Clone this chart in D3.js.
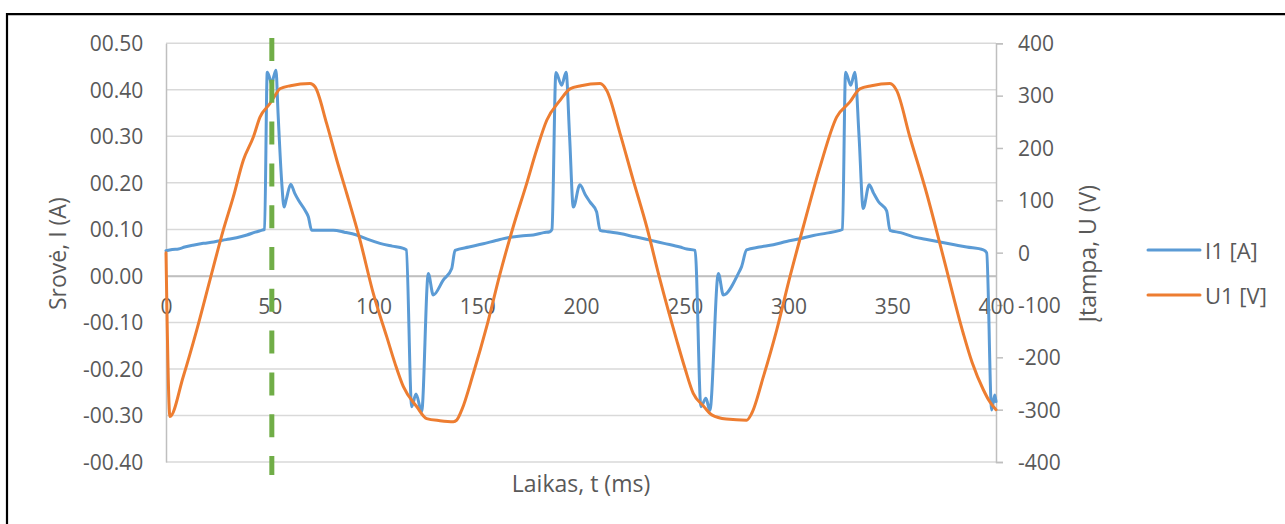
<!DOCTYPE html>
<html>
<head>
<meta charset="utf-8">
<script src="https://cdn.jsdelivr.net/npm/d3@7"></script>
<style>
  body { margin: 0; background: #fff; }
  svg { display: block; }
  text { font-family: "Open Sans", sans-serif; fill: #595959; }
</style>
</head>
<body>
<svg id="chart" width="1285" height="524"></svg>
<script>
// ---------- data ----------
const timeI = [0,3,6,9,13,18,23,29,34,39,43,46,47.5,48.8,50,50.9,52,53,54,55.7,56.9,58,60.1,62,63.8,67,68.6,70.2,75,80.6,86,91.9,97,103.1,109,114.4,115.8,118.4,120.5,123.2,126.4,128.8,133.6,137.7,139.3,146,152.9,159,165.8,171,177,182,185,186,187.9,190.7,192.8,194.5,196.3,199.5,202,204.3,207.5,209.2,213,218.8,226,233.3,240,247.7,251,255,257.8,260.2,262.1,266.2,268.6,275.8,277.4,279.8,286,292.7,299,305.5,312,318.4,324.8,326,327.5,330,332,334,336,338.9,341,343.3,347.3,348.9,354,360.2,366,373,380,385.9,393.9,395.5,397.9,399.4,400];
const currentI1 = [0.054,0.057,0.058,0.062,0.066,0.070,0.073,0.078,0.082,0.088,0.094,0.098,0.100,0.438,0.425,0.413,0.430,0.442,0.350,0.206,0.148,0.165,0.197,0.178,0.163,0.141,0.127,0.098,0.098,0.098,0.094,0.088,0.079,0.070,0.064,0.059,0.056,-0.281,-0.254,-0.292,0.005,-0.041,-0.009,0.016,0.055,0.062,0.069,0.076,0.083,0.086,0.088,0.093,0.095,0.100,0.437,0.410,0.438,0.300,0.148,0.196,0.175,0.159,0.138,0.098,0.095,0.091,0.084,0.077,0.070,0.062,0.058,0.055,-0.281,-0.263,-0.289,0.005,-0.041,0.005,0.020,0.056,0.062,0.067,0.074,0.080,0.087,0.092,0.098,0.100,0.438,0.410,0.438,0.300,0.145,0.196,0.178,0.160,0.140,0.098,0.093,0.084,0.079,0.073,0.067,0.062,0.056,0.050,-0.288,-0.256,-0.270];

const timeU = [0,1.9,8.3,14.8,21.2,27.6,32.4,37.3,42.1,45.3,50.1,52.5,54.9,60,69.4,71.8,77.4,82.3,87.1,93.5,99.9,106.4,110.4,114.4,120.8,125.6,132,138.5,140.1,142.5,148.1,154.5,161,167.3,173.8,178.6,183.5,189.9,194.7,200,209.2,212.4,218.8,225.2,231.7,238.1,246.1,250.1,254.1,259,263,270,279.8,282.3,287.9,294.3,300.7,307.1,315.2,323.2,329.6,334.4,340,348.9,352.1,358.5,366.6,374.6,384.2,388.5,393.9,397,400];
const voltageU1 = [0,-313,-237,-148,-52,43,106,177,221,259,285,300,313,319,323,317,247,177,113,24,-78,-161,-212,-256,-294,-317,-321,-323,-320,-301,-231,-142,-40,49,132,196,253,291,313,319,323,310,228,138,49,-52,-167,-221,-269,-293,-310,-318,-320,-307,-237,-148,-46,49,164,259,288,313,319,323,310,221,113,-8,-154,-210,-262,-285,-300];

const xTicks = [0,50,100,150,200,250,300,350,400];
const leftTicks = [-0.4,-0.3,-0.2,-0.1,0,0.1,0.2,0.3,0.4,0.5];
const rightTicks = [-400,-300,-200,-100,0,100,200,300,400];
const seriesNames = ["I1 [A]", "U1 [V]"];
const seriesColors = ["#5B9BD5", "#ED7D31"];
const markerTime = 51;
const titles = { x: "Laikas, t (ms)", yLeft: "Srovė, I (A)", yRight: "Įtampa, U (V)" };

// ---------- layout ----------
const svg = d3.select("#chart");
const X0 = 166, X1 = 996, Y0 = 462, Y1 = 43.3;
const x = d3.scaleLinear().domain([0, 400]).range([X0, X1]);
const yL = d3.scaleLinear().domain([-0.4, 0.5]).range([Y0, Y1]);
const yR = d3.scaleLinear().domain([-400, 400]).range([Y0, Y1]);

// outer frame
svg.append("line").attr("x1", 7).attr("x2", 1285).attr("y1", 14.2).attr("y2", 14.2)
  .attr("stroke", "#000").attr("stroke-width", 2.2);
svg.append("line").attr("x1", 7).attr("x2", 7).attr("y1", 13.1).attr("y2", 524)
  .attr("stroke", "#000").attr("stroke-width", 2.2);

// gridlines
svg.append("g").selectAll("line").data(leftTicks).join("line")
  .attr("x1", X0).attr("x2", X1)
  .attr("y1", d => yL(d)).attr("y2", d => yL(d))
  .attr("stroke", d => d === 0 ? "#BFBFBF" : "#D9D9D9").attr("stroke-width", 1.5);

const fmtL = d => (d < 0 ? "-" : "") + "0" + d3.format(".2f")(Math.abs(d));
const fmtR = d => (d < 0 ? "-" : "") + String(Math.abs(d));

// left axis
const gL = svg.append("g").attr("transform", `translate(${X0},0)`)
  .call(d3.axisLeft(yL).tickValues(leftTicks).tickFormat(fmtL).tickSize(0).tickPadding(22.7));
gL.select(".domain").attr("stroke", "#BFBFBF").attr("stroke-width", 1.5);
gL.selectAll("text").attr("font-size", 21).attr("dy", "0.35em").style("font-family", '"Open Sans", sans-serif').attr("fill", "#595959");

// right axis
const gR = svg.append("g").attr("transform", `translate(${X1},0)`)
  .call(d3.axisRight(yR).tickValues(rightTicks).tickFormat(fmtR).tickSize(7).tickPadding(15));
gR.select(".domain").attr("stroke", "#BFBFBF").attr("stroke-width", 1.5);
gR.selectAll(".tick line").attr("stroke", "#BFBFBF").attr("stroke-width", 1.5);
gR.selectAll("text").attr("font-size", 21).attr("dy", "0.35em").style("font-family", '"Open Sans", sans-serif').attr("fill", "#595959");

// bottom axis (crossing at zero of the current axis)
const gX = svg.append("g").attr("transform", `translate(0,${yL(0)})`)
  .call(d3.axisBottom(x).tickValues(xTicks).tickFormat(d => String(d)).tickSize(0).tickPadding(23));
gX.select(".domain").attr("stroke", "#BFBFBF").attr("stroke-width", 1.5);
gX.selectAll("text").attr("font-size", 21).style("font-family", '"Open Sans", sans-serif').attr("fill", "#595959");

// series
const lineI = d3.line().x((d, i) => x(timeI[i])).y(d => yL(d)).curve(d3.curveMonotoneX);
const lineU = d3.line().x((d, i) => x(timeU[i])).y(d => yR(d)).curve(d3.curveMonotoneX);
svg.append("path").datum(currentI1).attr("d", lineI)
  .attr("fill", "none").attr("stroke", seriesColors[0]).attr("stroke-width", 3)
  .attr("stroke-linejoin", "round").attr("stroke-linecap", "round");
svg.append("path").datum(voltageU1).attr("d", lineU)
  .attr("fill", "none").attr("stroke", seriesColors[1]).attr("stroke-width", 3)
  .attr("stroke-linejoin", "round").attr("stroke-linecap", "round");

// green dashed marker
svg.append("line").attr("x1", x(markerTime)).attr("x2", x(markerTime))
  .attr("y1", 38).attr("y2", 475)
  .attr("stroke", "#70AD47").attr("stroke-width", 5).attr("stroke-dasharray", "23 18.8");

// axis titles
svg.append("text").attr("x", (X0 + X1) / 2).attr("y", 492).attr("text-anchor", "middle")
  .attr("font-size", 23).text(titles.x);
svg.append("text").attr("transform", `translate(66,${(Y0 + Y1) / 2 + 1}) rotate(-90)`)
  .attr("text-anchor", "middle").attr("font-size", 23).text(titles.yLeft);
svg.append("text").attr("transform", `translate(1096,${(Y0 + Y1) / 2 + 1}) rotate(-90)`)
  .attr("text-anchor", "middle").attr("font-size", 23).text(titles.yRight);

// legend
const leg = svg.append("g");
seriesNames.forEach((name, i) => {
  const cy = 250 + i * 45;
  leg.append("line").attr("x1", 1148).attr("x2", 1200).attr("y1", cy).attr("y2", cy)
    .attr("stroke", seriesColors[i]).attr("stroke-width", 3).attr("stroke-linecap", "round");
  leg.append("text").attr("x", 1205).attr("y", cy + 8.5).attr("font-size", 22).text(name);
});
</script>
</body>
</html>
